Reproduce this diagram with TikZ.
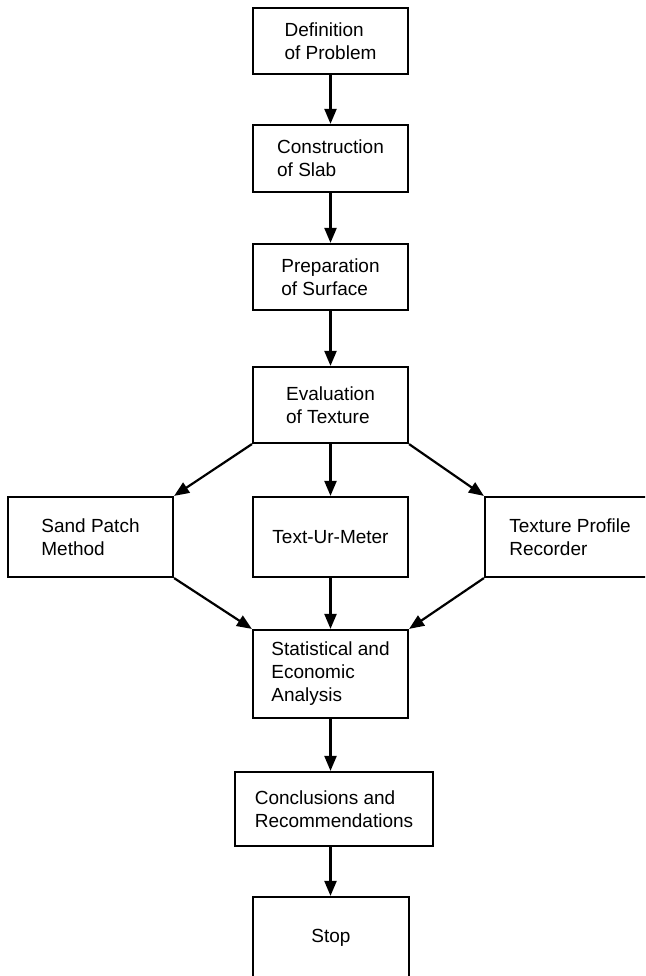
\documentclass[tikz,border=0pt]{standalone}
\usepackage{fontspec}
\setmainfont{Liberation Sans}
\usetikzlibrary{arrows.meta}
\tikzset{
  box/.style={draw, line width=2.2pt, rectangle, inner sep=0pt, align=left,
    font=\fontsize{19}{23}\selectfont},
  arr/.style={line width=2.2pt, -{Triangle[length=15pt,width=12pt]}}
}
\begin{document}
\begin{tikzpicture}[x=1pt,y=-1pt]
\useasboundingbox (0,0) rectangle (645,976);
\clip (0,0) rectangle (645,976);
\node[box, minimum width=155pt, minimum height=66pt] (b1) at (330.5,41) {Definition\\of Problem};
\node[box, minimum width=155pt, minimum height=67pt] (b2) at (330.5,158.5) {Construction\\of Slab};
\node[box, minimum width=155pt, minimum height=66pt] (b3) at (330.5,277) {Preparation\\of Surface};
\node[box, minimum width=155pt, minimum height=76pt] (b4) at (330.5,405) {Evaluation\\of Texture};
\node[box, minimum width=165pt, minimum height=80pt] (sp) at (90.5,537) {Sand Patch\\Method};
\node[box, minimum width=155pt, minimum height=80pt] (tm) at (330.5,537) {Text-Ur-Meter};
\node[box, minimum width=170pt, minimum height=80pt] (tp) at (570,537) {Texture Profile\\Recorder};
\node[box, minimum width=155pt, minimum height=88pt] (st) at (330.5,674) {Statistical and\\Economic\\Analysis};
\node[box, minimum width=198pt, minimum height=74pt] (cr) at (334,809) {Conclusions and\\Recommendations};
\node[box, minimum width=156pt, minimum height=81pt] (sto) at (331,937.5) {Stop};
\draw[arr] (b1) -- (b2);
\draw[arr] (b2) -- (b3);
\draw[arr] (b3) -- (b4);
\draw[arr] (b4.south west) -- (sp.north east);
\draw[arr] (b4.south) -- (tm.north);
\draw[arr] (b4.south east) -- (tp.north west);
\draw[arr] (sp.south east) -- (st.north west);
\draw[arr] (tm.south) -- (st.north);
\draw[arr] (tp.south west) -- (st.north east);
\draw[arr] (st.south) -- (st.south |- cr.north);
\draw[arr] (st.south |- cr.south) -- (st.south |- sto.north);
\end{tikzpicture}
\end{document}
